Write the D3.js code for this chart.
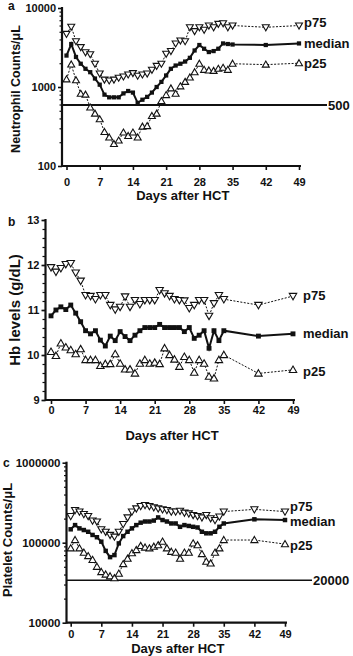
<!DOCTYPE html>
<html>
<head>
<meta charset="utf-8">
<script src="https://cdn.jsdelivr.net/npm/d3@7"></script>
<style>
    body { margin: 0; background: #fff; }
    text { font-family: "Liberation Sans", Arial, sans-serif; font-weight: bold; fill: #111; }
</style>
</head>
<body>
<div id="chart"></div>
<script>
// days after HCT (daily to day 35, then weekly)
const days = [0,1,2,3,4,5,6,7,8,9,10,11,12,13,14,15,16,17,18,19,20,21,22,23,24,25,26,27,28,29,30,31,32,33,34,35,42,49];
const dayTicks = [0,7,14,21,28,35,42,49];

// panel a - neutrophils / uL
const ancP75 = [4700,5800,3800,3200,2750,2600,1970,1480,1240,1210,1240,1310,1360,1440,1500,1390,1440,1480,1650,1850,1970,2630,2850,3560,3870,3800,5700,5100,5700,5300,6000,5700,6300,6400,5700,6000,5700,6000];
const ancMedian = [2500,3500,2400,1970,1700,1540,1280,1070,800,740,740,740,830,890,850,630,690,750,850,1000,1160,1400,1700,1870,1970,2100,2340,2900,3400,3050,2770,2850,3050,3560,3500,3450,3400,3560];
const ancP25 = [1250,1930,1220,820,800,550,460,390,270,230,190,210,265,240,265,230,315,320,430,460,665,790,960,820,1020,1160,1320,1540,1970,1650,1620,1600,1700,1750,1650,1970,1920,2000];
const ancTicks = [100, 1000, 10000];

// panel b - haemoglobin g/dL
const hbP75 = [11.95,11.85,11.93,12.02,12.04,11.83,11.65,11.33,11.31,11.24,11.33,11.33,11.11,11.01,11.07,11.30,11.07,11.22,11.13,11.22,11.22,11.22,11.44,11.37,11.31,11.24,11.22,11.21,11.04,11.11,11.22,11.22,10.87,11.15,11.33,11.24,11.11,11.31];
const hbMedian = [10.87,11.0,11.07,11.01,11.11,10.93,10.74,10.54,10.47,10.54,10.33,10.20,10.42,10.32,10.52,10.41,10.32,10.44,10.54,10.61,10.61,10.61,10.68,10.61,10.61,10.61,10.61,10.52,10.61,10.37,10.44,10.54,10.15,10.54,10.32,10.54,10.42,10.47];
const hbP25 = [10.07,9.98,10.26,10.17,10.11,10.02,10.13,9.89,9.89,9.89,9.76,9.80,9.80,10.02,9.81,9.68,9.68,9.59,9.81,9.89,9.81,9.83,9.80,10.15,10.0,9.90,9.74,9.96,9.89,9.61,9.89,9.81,9.52,9.48,9.89,10.0,9.59,9.67];
const hbTicks = [9, 10, 11, 12, 13];

// panel c - platelets / uL
const pltP75 = [215000,256000,245000,228000,215000,189000,184000,147000,137000,125000,119000,137000,171000,207000,245000,268000,287000,295000,287000,277000,268000,261000,256000,245000,245000,250000,237000,232000,222000,215000,207000,222000,202000,192000,212000,245000,261000,245000];
const pltMedian = [147000,166000,151000,144000,137000,125000,117000,103000,79000,66000,70000,98000,121000,137000,151000,166000,178000,184000,184000,189000,207000,192000,184000,174000,174000,158000,166000,162000,158000,155000,137000,131000,131000,137000,158000,174000,196000,192000];
const pltP25 = [85000,108000,85000,75000,68000,61000,50000,43000,40000,38000,36000,41000,54000,63000,74000,81000,91000,87000,85000,89000,93000,103000,85000,77000,75000,63000,75000,75000,98000,93000,72000,58000,55000,75000,85000,108000,108000,96000];
const pltTicks = [10000, 100000, 1000000];

// cut-off lines (where they are drawn) and their labels
const cutoffValues = [590, 34000];
const cutoffLabels = ["500", "20000"];

const seriesNames = ["p75", "median", "p25"];

const width = 353, height = 656;
const svg = d3.select("#chart").append("svg")
    .attr("width", width)
    .attr("height", height);

const ink = "#111";

function drawPanel(o) {
    const g = svg.append("g");
    const x = d3.scaleLinear().domain([0, 49]).range(o.xRange);
    const y = o.log
        ? d3.scaleLog().domain(o.yDomain).range(o.yRange)
        : d3.scaleLinear().domain(o.yDomain).range(o.yRange);
    const axisY = o.yRange[0];

    // minor y ticks
    g.append("g")
        .attr("transform", `translate(${o.axisX},0)`)
        .call(d3.axisLeft(y).tickValues(o.minor).tickSize(o.minorSize).tickFormat(""))
        .call(a => a.select(".domain").remove())
        .call(a => a.selectAll("line").attr("stroke", ink).attr("stroke-width", 1.2));

    // y axis
    const ya = g.append("g")
        .attr("transform", `translate(${o.axisX},0)`)
        .call(d3.axisLeft(y).tickValues(o.yTicks).tickSize(4).tickPadding(2).tickSizeOuter(0)
            .tickFormat(d3.format("d")));
    ya.select(".domain").remove();
    ya.selectAll("line").attr("stroke", ink).attr("stroke-width", 1.6);
    ya.selectAll("text").style("font-size", o.yTickSize).attr("font-family", null);
    g.append("line")
        .attr("x1", o.axisX).attr("x2", o.axisX)
        .attr("y1", o.yRange[1] - 1).attr("y2", axisY + 1)
        .attr("stroke", ink).attr("stroke-width", 2.2);

    // x axis
    const xa = g.append("g")
        .attr("transform", `translate(0,${axisY})`)
        .call(d3.axisBottom(x).tickValues(dayTicks).tickSize(4).tickPadding(o.xPad).tickSizeOuter(0));
    xa.select(".domain").remove();
    xa.selectAll("line").attr("stroke", ink).attr("stroke-width", 1.6);
    xa.selectAll("text").style("font-size", "11px").attr("font-family", null);
    g.append("line")
        .attr("x1", o.axisX).attr("x2", o.xRange[1] + 2)
        .attr("y1", axisY).attr("y2", axisY)
        .attr("stroke", ink).attr("stroke-width", 2.2);

    // titles
    g.append("text")
        .attr("x", (o.xRange[0] + o.xRange[1]) / 2)
        .attr("y", o.xTitleY)
        .attr("text-anchor", "middle")
        .style("font-size", "13px")
        .text("Days after HCT");
    g.append("text")
        .attr("transform", `translate(${o.yTitleX},${o.yTitleY}) rotate(-90)`)
        .attr("text-anchor", "middle")
        .style("font-size", o.yTitleSize)
        .text(o.yTitle);
    g.append("text")
        .attr("x", o.letterX).attr("y", o.letterY)
        .style("font-size", "12px")
        .text(o.letter);

    // cut-off line
    if (o.cutoff !== undefined) {
        const cy = y(cutoffValues[o.cutoff]);
        g.append("line")
            .attr("x1", o.axisX).attr("x2", o.cutoffEnd)
            .attr("y1", cy).attr("y2", cy)
            .attr("stroke", ink).attr("stroke-width", o.cutoffWidth);
        g.append("text")
            .attr("x", o.cutoffEnd + 1).attr("y", cy + 4.5)
            .style("font-size", "13px")
            .text(cutoffLabels[o.cutoff]);
    }

    const line = d3.line()
        .x((d, i) => x(days[i]))
        .y(d => y(d));

    // quartile lines (dotted) and median (solid)
    [o.p75, o.p25].forEach(s => {
        g.append("path").datum(s)
            .attr("fill", "none")
            .attr("stroke", ink)
            .attr("stroke-width", 1)
            .attr("stroke-dasharray", "2,1.5")
            .attr("d", line);
    });
    g.append("path").datum(o.med)
        .attr("fill", "none")
        .attr("stroke", ink)
        .attr("stroke-width", 2)
        .attr("d", line);

    const tri = d3.symbol().type(d3.symbolTriangle).size(o.triSize);
    const sq = d3.symbol().type(d3.symbolSquare).size(o.squareSize);

    g.append("g").selectAll("path")
        .data(o.p75)
        .join("path")
        .attr("d", tri)
        .attr("transform", (d, i) => `translate(${x(days[i])},${y(d) - 0.5}) rotate(180)`)
        .attr("fill", "#fff")
        .attr("stroke", ink)
        .attr("stroke-width", 1.1);

    g.append("g").selectAll("path")
        .data(o.p25)
        .join("path")
        .attr("d", tri)
        .attr("transform", (d, i) => `translate(${x(days[i])},${y(d) + 0.5})`)
        .attr("fill", "#fff")
        .attr("stroke", ink)
        .attr("stroke-width", 1.1);

    g.append("g").selectAll("path")
        .data(o.med)
        .join("path")
        .attr("d", sq)
        .attr("transform", (d, i) => `translate(${x(days[i])},${y(d)})`)
        .attr("fill", ink);

    // series labels at the right end
    const last = days.length - 1;
    [o.p75, o.med, o.p25].forEach((s, k) => {
        g.append("text")
            .attr("x", x(days[last]) + o.labelDx)
            .attr("y", y(s[last]) + 4.5 + o.labelDy[k])
            .style("font-size", o.labelSize)
            .text(seriesNames[k]);
    });
}

function logMinor(lo, hi) {
    const out = [];
    for (let p = lo; p < hi; p *= 10) {
        for (let m = 2; m < 10; m++) out.push(p * m);
    }
    return out;
}

drawPanel({
    letter: "a", letterX: 8, letterY: 10,
    xRange: [66.5, 299], axisX: 62,
    log: true, yDomain: [100, 10000], yRange: [166, 8],
    yTicks: ancTicks, yTickSize: "11px", minor: logMinor(100, 10000), minorSize: 2.5,
    xPad: 8, xTitleY: 200,
    yTitle: "Neutrophil Counts/\u03bcL", yTitleX: 20, yTitleY: 89, yTitleSize: "12.5px",
    p75: ancP75, med: ancMedian, p25: ancP25, squareSize: 18, triSize: 21,
    cutoff: 0, cutoffEnd: 327, cutoffWidth: 2,
    labelDx: 5, labelDy: [-3, 0, 0], labelSize: "13px"
});

drawPanel({
    letter: "b", letterX: 8, letterY: 226,
    xRange: [51, 293], axisX: 45.5,
    log: false, yDomain: [9, 13], yRange: [400, 220],
    yTicks: hbTicks, yTickSize: "11px", minor: d3.range(9, 13.001, 0.2), minorSize: 3,
    xPad: 2, xTitleY: 440,
    yTitle: "Hb levels (g/dL)", yTitleX: 20, yTitleY: 310, yTitleSize: "15px",
    p75: hbP75, med: hbMedian, p25: hbP25, squareSize: 24, triSize: 24,
    labelDx: 10, labelDy: [-1, 0, 2], labelSize: "13px"
});

drawPanel({
    letter: "c", letterX: 3, letterY: 467,
    xRange: [70.7, 285], axisX: 66.5,
    log: true, yDomain: [10000, 1000000], yRange: [622.7, 462.7],
    yTicks: pltTicks, yTickSize: "11.5px", minor: logMinor(10000, 1000000), minorSize: 2.5,
    xPad: 4, xTitleY: 652.5,
    yTitle: "Platelet Counts/\u03bcL", yTitleX: 12, yTitleY: 540, yTitleSize: "13px",
    p75: pltP75, med: pltMedian, p25: pltP25, squareSize: 20, triSize: 22,
    cutoff: 1, cutoffEnd: 312, cutoffWidth: 1.5,
    labelDx: 5, labelDy: [-5, 1, 1], labelSize: "13px"
});
</script>
</body>
</html>
